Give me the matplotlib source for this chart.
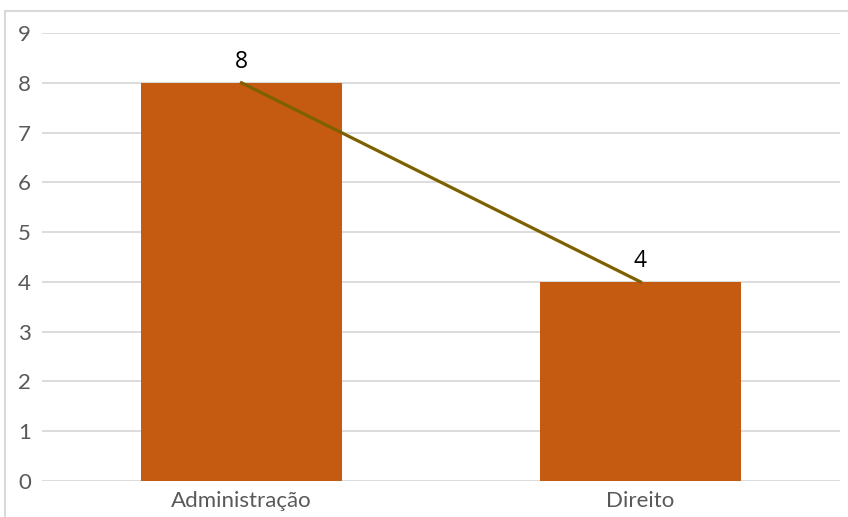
import matplotlib.pyplot as plt
from matplotlib.patches import Rectangle

cursos = ['Administração', 'Direito']
alunos = [8, 4]

plt.rcParams['font.family'] = ['Lato', 'DejaVu Sans']

fig = plt.figure(figsize=(8.48, 5.17), dpi=100)
ax = fig.add_axes([42 / 848, 1 - 481 / 517, 798 / 848, 448 / 517])

x = range(len(cursos))
ax.bar(x, alunos, width=0.503, color='#C55A11', zorder=2)
ax.plot(x, alunos, color='#7F6000', lw=2.3, zorder=3)
for xi, v in zip(x, alunos):
    ax.text(xi, v + 0.18, str(v), ha='center', va='bottom', fontsize=16.5,
            color='black', family=['Open Sans', 'DejaVu Sans'])

ax.set_xlim(-0.5, 1.5)
ax.set_ylim(0, 9)
ax.set_yticks(range(10))
ax.set_xticks(list(x))
ax.set_xticklabels(cursos)
ax.tick_params(axis='both', length=0, labelsize=16, colors='#595959')
ax.tick_params(axis='y', pad=8)
ax.tick_params(axis='x', pad=7)
ax.yaxis.grid(True, color='#d9d9d9', lw=1.3, zorder=0)
ax.set_axisbelow(True)
for s in ax.spines.values():
    s.set_visible(False)

# moldura do gráfico
fig.patches.append(Rectangle((5 / 848, -0.1), 2, 1.1 - 11 / 517, transform=fig.transFigure,
                             fill=False, edgecolor='#d9d9d9', lw=1.5))

fig.savefig('out.png', dpi=100)
